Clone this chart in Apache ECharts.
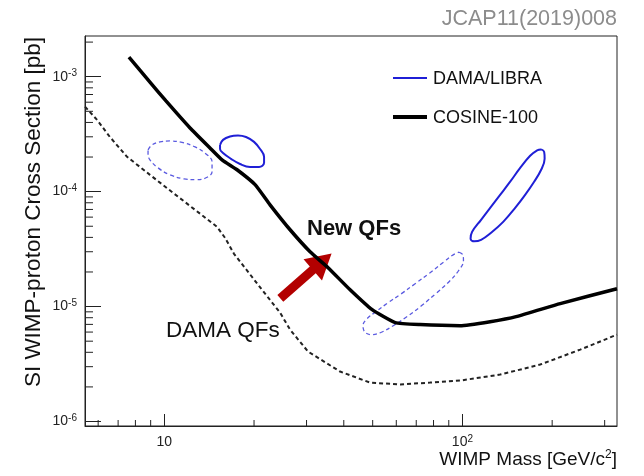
<!DOCTYPE html>
<html>
<head>
<meta charset="utf-8">
<script src="https://cdn.jsdelivr.net/npm/echarts@6/dist/echarts.min.js"></script>
<style>
html, body { margin: 0; padding: 0; background: #fff; }
#chart { width: 644px; height: 476px; }
</style>
</head>
<body>
<div id="chart"></div>
<script>
// axis ranges (GeV/c^2, pb)
var massMin = 5.42, massMax = 330;
var xsecMin = 9.14e-7, xsecMax = 2.26e-3;

var xMinorTicks = [6, 7, 8, 9, 20, 30, 40, 50, 60, 70, 80, 90, 200, 300];
var yMinorTicks = [2e-6, 3e-6, 4e-6, 5e-6, 6e-6, 7e-6, 8e-6, 9e-6,
                   2e-5, 3e-5, 4e-5, 5e-5, 6e-5, 7e-5, 8e-5, 9e-5,
                   2e-4, 3e-4, 4e-4, 5e-4, 6e-4, 7e-4, 8e-4, 9e-4, 2e-3];

// COSINE-100 limit (new QFs)
var cosine = [[7.61, 1.48e-3], [8.95, 8.99e-4], [10.13, 6.15e-4], [12.2, 3.58e-4], [14.23, 2.40e-4],
              [15.62, 1.89e-4], [17.54, 1.55e-4], [20.16, 1.15e-4], [22.63, 7.68e-5], [26.42, 4.66e-5],
              [30.83, 3.00e-5], [35.43, 2.18e-5], [42.0, 1.40e-5], [49.8, 9.40e-6], [59.5, 7.25e-6],
              [72.1, 6.97e-6], [98.2, 6.82e-6], [123.9, 7.39e-6], [151.4, 8.17e-6], [212.8, 1.06e-5],
              [330, 1.43e-5]];

// COSINE-100 limit with DAMA QFs
var damaQF = [[5.42, 5.49e-4], [5.95, 4.21e-4], [6.57, 2.99e-4], [7.5, 2.01e-4], [8.95, 1.40e-4],
              [10.7, 9.76e-5], [12.68, 6.95e-5], [15.03, 4.94e-5], [15.98, 3.97e-5], [17.13, 2.88e-5],
              [20.63, 1.55e-5], [24.45, 8.85e-6], [26.42, 6.30e-6], [30.35, 4.06e-6], [38.87, 2.72e-6],
              [49.0, 2.18e-6], [61.8, 2.10e-6], [77.9, 2.18e-6], [98.2, 2.27e-6], [133.8, 2.56e-6],
              [182.3, 3.13e-6], [248.3, 4.22e-6], [330, 5.70e-6]];

// DAMA/LIBRA regions, new QFs (solid)
var libraLowNew = [[15.38, 2.55e-4], [15.74, 2.82e-4], [16.61, 3.02e-4], [17.67, 3.08e-4], [18.8, 2.99e-4],
                   [20.0, 2.71e-4], [20.95, 2.35e-4], [21.61, 2.01e-4], [21.61, 1.78e-4], [20.79, 1.64e-4],
                   [19.39, 1.64e-4], [17.95, 1.74e-4], [16.74, 1.93e-4], [15.74, 2.17e-4], [15.38, 2.35e-4],
                   [15.38, 2.55e-4]];
var libraHighNew = [[183.7, 2.33e-4], [188.0, 2.22e-4], [188.7, 1.93e-4], [183.7, 1.55e-4], [174.0, 1.22e-4],
                    [162.3, 9.38e-5], [150.3, 7.23e-5], [137.0, 5.46e-5], [124.8, 4.39e-5], [115.5, 3.81e-5],
                    [109.5, 3.70e-5], [106.5, 3.89e-5], [107.8, 4.47e-5], [115.5, 5.69e-5], [123.9, 7.23e-5],
                    [133.8, 9.38e-5], [144.6, 1.22e-4], [156.2, 1.61e-4], [168.7, 2.05e-4], [178.1, 2.29e-4],
                    [183.7, 2.33e-4]];

// DAMA/LIBRA regions, DAMA QFs (dashed)
var libraLowOld = [[8.82, 2.31e-4], [9.09, 2.55e-4], [9.67, 2.71e-4], [10.45, 2.76e-4], [11.47, 2.68e-4],
                   [12.68, 2.45e-4], [13.8, 2.13e-4], [14.46, 1.82e-4], [14.46, 1.49e-4], [13.8, 1.32e-4],
                   [12.78, 1.27e-4], [11.65, 1.29e-4], [10.45, 1.40e-4], [9.53, 1.61e-4], [8.95, 1.89e-4],
                   [8.82, 2.13e-4], [8.82, 2.31e-4]];
var libraHighOld = [[97.5, 2.97e-5], [100.5, 2.80e-5], [100.8, 2.50e-5], [97.0, 2.05e-5], [90.5, 1.66e-5],
                    [81.5, 1.30e-5], [73.0, 1.02e-5], [65.3, 8.20e-6], [58.8, 6.85e-6], [53.5, 5.98e-6],
                    [49.8, 5.70e-6], [47.2, 5.95e-6], [46.4, 6.82e-6], [47.9, 7.85e-6], [51.3, 9.03e-6],
                    [56.3, 1.08e-5], [62.3, 1.29e-5], [69.4, 1.58e-5], [77.9, 1.97e-5], [86.8, 2.46e-5],
                    [93.1, 2.82e-5], [97.5, 2.97e-5]];

// red arrow: from, to
var arrow = [[24.5, 1.18e-5, 36.4, 2.90e-5]];

var FONT = '"Liberation Sans", Arial, Helvetica, sans-serif';
var chart = echarts.init(document.getElementById('chart'));

function expLabel(v, isX) {
    var e = Math.round(Math.log10(v));
    if (isX && e === 1) return '{b|10}';
    return '{b|10}{s|' + e + '}';
}
var labelRich = {
    b: { fontSize: 14, lineHeight: 16, fontFamily: FONT, color: '#222' },
    s: { fontSize: 10, lineHeight: 10, verticalAlign: 'top', fontFamily: FONT, color: '#222' }
};

var blueSolid = { color: '#1f1fd6', width: 2 };
var blueDash = { color: '#5a5ae0', width: 1.3, type: [4, 3] };

function txt(x, y, text, font, align, color) {
    return { type: 'text', x: x, y: y, silent: true,
             style: { text: text, fill: color || '#111', font: font,
                      textAlign: align, textVerticalAlign: 'middle', align: align, verticalAlign: 'middle' } };
}

var option = {
    animation: false,
    backgroundColor: '#fff',
    grid: { left: 85, right: 27, top: 36, bottom: 50, show: true, borderColor: '#222', borderWidth: 1 },
    xAxis: {
        type: 'log', logBase: 10, min: massMin, max: massMax,
        axisLine: { show: true, lineStyle: { color: '#222', width: 1 } },
        axisTick: { show: true, inside: true, length: 12, lineStyle: { color: '#222' } },
        axisLabel: { margin: 8, showMinLabel: false, showMaxLabel: false,
                     formatter: function (v) { return expLabel(v, true); }, rich: labelRich },
        splitLine: { show: false }
    },
    yAxis: {
        type: 'log', logBase: 10, min: xsecMin, max: xsecMax,
        axisLine: { show: true, lineStyle: { color: '#222', width: 1 } },
        axisTick: { show: true, inside: true, length: 16, lineStyle: { color: '#222' } },
        axisLabel: { margin: 8, showMinLabel: false, showMaxLabel: false,
                     formatter: function (v) { return expLabel(v, false); }, rich: labelRich },
        splitLine: { show: false }
    },
    graphic: [
        txt(617, 19, 'JCAP11(2019)008', '21.5px ' + FONT, 'right', '#8c8c8c'),
        { type: 'text', x: 34, y: 37, rotation: Math.PI / 2, silent: true,
          style: { text: 'SI WIMP-proton Cross Section [pb]', fill: '#111', font: '22.5px ' + FONT,
                   textAlign: 'right', textVerticalAlign: 'middle', align: 'right', verticalAlign: 'middle' } },
        { type: 'text', x: 617, y: 460, silent: true,
          style: { text: '{t|WIMP Mass [GeV/c}{s|2}{t|]}', textAlign: 'right', textVerticalAlign: 'middle',
                   align: 'right', verticalAlign: 'middle',
                   rich: { t: { fontSize: 19, lineHeight: 22, fontFamily: FONT, fill: '#111', color: '#111' },
                           s: { fontSize: 12, lineHeight: 12, verticalAlign: 'top', fontFamily: FONT, fill: '#111', color: '#111' } } } },
        txt(307, 229, 'New QFs', 'bold 22px ' + FONT, 'left'),
        txt(166, 331, 'DAMA QFs', '22.5px ' + FONT, 'left'),
        // legend
        { type: 'line', silent: true, shape: { x1: 393, y1: 78, x2: 427, y2: 78 },
          style: { stroke: blueSolid.color, lineWidth: 2 } },
        txt(433, 79, 'DAMA/LIBRA', '18px ' + FONT, 'left'),
        { type: 'line', silent: true, shape: { x1: 393, y1: 117, x2: 427, y2: 117 },
          style: { stroke: '#000', lineWidth: 4 } },
        txt(433, 118, 'COSINE-100', '18px ' + FONT, 'left')
    ],
    series: [
        { name: 'DAMA QF limit', type: 'line', data: damaQF, symbol: 'none', silent: true,
          lineStyle: { color: '#222', width: 2, type: [4, 3] } },
        { name: 'DAMA/LIBRA', type: 'line', data: libraLowNew, symbol: 'none', smooth: 0.4, silent: true,
          lineStyle: blueSolid },
        { name: 'DAMA/LIBRA', type: 'line', data: libraHighNew, symbol: 'none', smooth: 0.4, silent: true,
          lineStyle: blueSolid },
        { name: 'DAMA/LIBRA old low', type: 'line', data: libraLowOld, symbol: 'none', smooth: 0.4, silent: true,
          lineStyle: blueDash },
        { name: 'DAMA/LIBRA old high', type: 'line', data: libraHighOld, symbol: 'none', smooth: 0.4, silent: true,
          lineStyle: blueDash },
        { name: 'COSINE-100', type: 'line', data: cosine, symbol: 'none', smooth: 0.15, silent: true,
          lineStyle: { color: '#000', width: 3.5 } },
        { name: 'xminor', type: 'custom', silent: true, data: xMinorTicks.map(function (v) { return [v, xsecMin]; }),
          renderItem: function (params, api) {
              var p = api.coord([api.value(0), api.value(1)]);
              return { type: 'line', shape: { x1: p[0], y1: p[1], x2: p[0], y2: p[1] - 6 },
                       style: { stroke: '#222', lineWidth: 1 } };
          } },
        { name: 'yminor', type: 'custom', silent: true, data: yMinorTicks.map(function (v) { return [massMin, v]; }),
          renderItem: function (params, api) {
              var p = api.coord([api.value(0), api.value(1)]);
              return { type: 'line', shape: { x1: p[0], y1: p[1], x2: p[0] + 8, y2: p[1] },
                       style: { stroke: '#222', lineWidth: 1 } };
          } },
        { name: 'arrow', type: 'custom', silent: true, data: arrow,
          encode: { x: [0, 2], y: [1, 3] },
          renderItem: function (params, api) {
              var s = api.coord([api.value(0), api.value(1)]);
              var t = api.coord([api.value(2), api.value(3)]);
              var dx = t[0] - s[0], dy = t[1] - s[1];
              var len = Math.sqrt(dx * dx + dy * dy);
              var ux = dx / len, uy = dy / len, nx = -uy, ny = ux;
              var hl = 25, hw = 14, sw = 4.5;
              var hx = t[0] - ux * hl, hy = t[1] - uy * hl;
              var pts = [
                  [s[0] + nx * sw, s[1] + ny * sw], [hx + nx * sw, hy + ny * sw], [hx + nx * hw, hy + ny * hw],
                  [t[0], t[1]],
                  [hx - nx * hw, hy - ny * hw], [hx - nx * sw, hy - ny * sw], [s[0] - nx * sw, s[1] - ny * sw]
              ];
              return { type: 'polygon', shape: { points: pts }, style: { fill: '#b30000' } };
          } }
    ]
};
chart.setOption(option);
</script>
</body>
</html>
